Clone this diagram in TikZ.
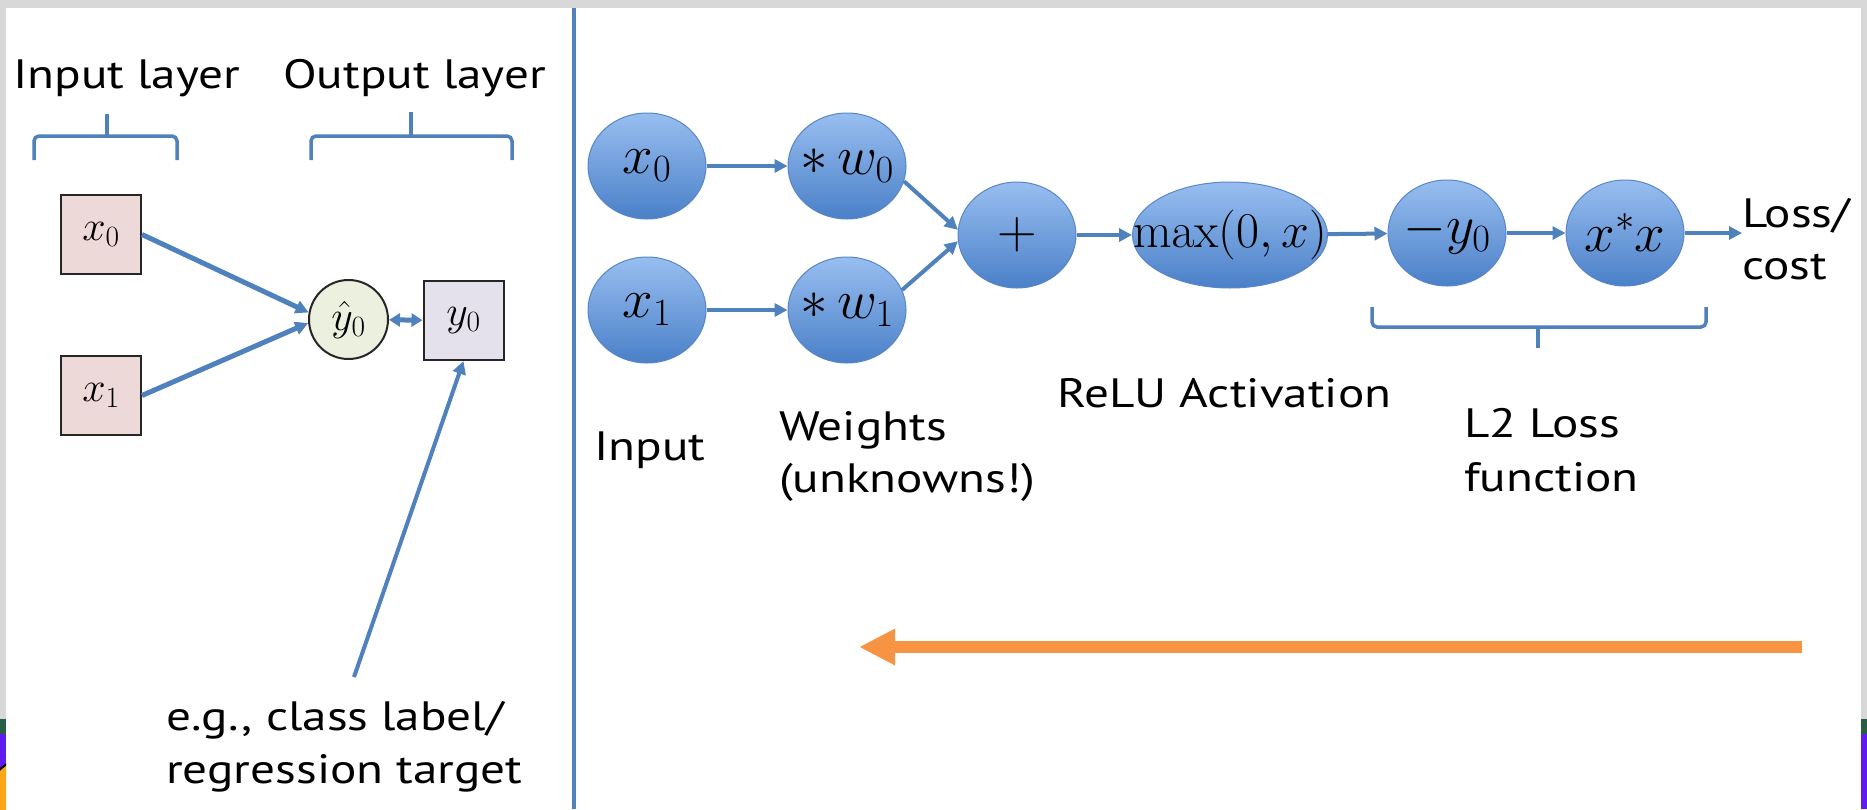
\RequirePackage{fix-cm}
\documentclass[tikz,border=0pt]{standalone}
\usepackage[no-math]{fontspec}
\setmainfont{PT Sans}[FakeStretch=1.2]
\usetikzlibrary{arrows.meta,shapes.geometric}

\definecolor{flowblue}{RGB}{79,129,189}
\definecolor{nodetop}{RGB}{152,190,240}
\definecolor{nodebot}{RGB}{74,128,200}
\definecolor{nodeedge}{RGB}{88,134,198}
\definecolor{inpink}{RGB}{237,217,216}
\definecolor{outlilac}{RGB}{228,224,236}
\definecolor{predgreen}{RGB}{235,241,222}
\definecolor{backorange}{RGB}{246,148,68}
\definecolor{pagegray}{RGB}{216,216,216}
\definecolor{stripgreen}{RGB}{38,94,70}
\definecolor{strippurple}{RGB}{96,28,240}
\definecolor{logoorange}{RGB}{250,165,20}

% centred label of zero width, so the ellipse keeps its set size
\newcommand\opmark[1]{\makebox[0pt]{$#1$}}

\tikzset{
  lbl/.style={font=\fontsize{41}{48}\selectfont, inner sep=0pt, anchor=base west},
  flow/.style={draw=flowblue, line width=4pt, -{Triangle[length=13pt,width=13pt]}},
  gnode/.style={ellipse, minimum width=118pt, minimum height=106pt, inner sep=0pt,
    top color=nodetop, bottom color=nodebot, draw=nodeedge, line width=1pt,
    font=\fontsize{55}{62}\selectfont},
  databox/.style={rectangle, draw=black!85, line width=2pt, minimum width=80pt,
    minimum height=79pt, inner sep=0pt, font=\fontsize{42}{50}\selectfont},
  brace/.style={draw=flowblue, line width=3.5pt, rounded corners=5pt},
}

\begin{document}
\begin{tikzpicture}[x=1pt,y=-1pt]
\useasboundingbox (0,0) rectangle (1867,809);

% page frame
\fill[pagegray] (0,0) rectangle (1867,809);
\fill[white] (6,8) rectangle (1861,809);
\fill[stripgreen] (0,719) rectangle (6,734);
\fill[strippurple] (0,734) rectangle (6,809);
\fill[stripgreen] (1861,719) rectangle (1867,734);
\fill[strippurple] (1861,734) rectangle (1867,809);
\begin{scope}
  \clip (0,734) rectangle (6,809);
  \filldraw[fill=logoorange, draw=black, line width=2pt] (34,806) circle (50);
\end{scope}

% divider between the two panels
\coordinate (divtop) at (574,8);
\coordinate (divbot) at (574,809);
\draw[flowblue, line width=4pt] (divtop) -- (divbot);

% ---------- left panel: single neuron ----------
\node[lbl] (inlayer) at (13,88) {Input layer};
\node[lbl] (outlayer) at (283,88) {Output layer};

\draw[brace] (34,160) -- (34,136) -- (177,136) -- (177,160);
\draw[brace] (107,136) -- (107,114);
\draw[brace] (311,160) -- (311,136) -- (512,136) -- (512,160);
\draw[brace] (411,136) -- (411,112);

\node[databox, fill=inpink] (bx0) at (101,234.5) {$x_0$};
\node[databox, fill=inpink] (bx1) at (101,395.5) {$x_1$};
\node[circle, draw=black!85, line width=2pt, fill=predgreen, minimum size=79pt,
      inner sep=0pt, font=\fontsize{42}{50}\selectfont] (yhat) at (348.5,319.5) {$\hat{y}_0$};
\node[databox, fill=outlilac] (by0) at (463.5,320.5) {$y_0$};

\draw[flow, line width=5pt] (bx0.east) -- (yhat.170);
\draw[flow, line width=5pt] (bx1.east) -- (yhat.185);
\draw[draw=flowblue, line width=5pt, {Triangle[length=11pt,width=13pt]}-{Triangle[length=11pt,width=13pt]}] (yhat) -- (by0);

\coordinate (tgt) at (354,677);
\draw[flow] (tgt) -- (by0.south);

\node[lbl] (eg1) at (166,730) {e.g., class label/};
\node[lbl] (eg2) at (166,783) {regression target};

% ---------- right panel: computational graph ----------
\node[gnode] (nx0) at (647,166) {\opmark{x_0}};
\node[gnode] (nx1) at (647,310) {\opmark{x_1}};
\node[gnode] (nw0) at (847,166) {\opmark{*\,w_0}};
\node[gnode] (nw1) at (847,310) {\opmark{*\,w_1}};
\node[gnode] (nplus) at (1017,235) {\opmark{+}};
\node[gnode, minimum width=195pt, font=\fontsize{50}{58}\selectfont] (nmax) at (1230,235) {\opmark{\max(0,x)}};
\node[gnode] (nmy) at (1447,233) {\opmark{-y_0}};
\node[gnode] (nsq) at (1625,233) {\opmark{x^*x}};

\node[lbl] (loss1) at (1742,227) {Loss/};
\node[lbl] (loss2) at (1742,279) {cost};

\draw[flow] (nx0) -- (nw0);
\draw[flow] (nx1) -- (nw1);
\draw[flow] (nw0.-15) -- (nplus.175);
\draw[flow] (nw1.20) -- (nplus.186);
\draw[flow] (nplus) -- (nmax);
\draw[flow] (nmax) -- (nmy);
\draw[flow] (nmy) -- (nsq);
\draw[flow] (nsq) -- (nsq -| loss1.west);

\draw[brace] (1372,307) -- (1372,327) -- (1706,327) -- (1706,307);
\draw[brace] (1538,327) -- (1538,348);

\node[lbl] (inlbl) at (594,460) {Input};
\node[lbl] (wt1) at (779,440) {Weights};
\node[lbl] (wt2) at (779,492) {(unknowns!)};
\node[lbl] (relu) at (1057,407) {ReLU Activation};
\node[lbl] (l2a) at (1464,437) {L2 Loss};
\node[lbl] (l2b) at (1464,491) {function};

% backward pass
\coordinate (bpstart) at (1802,647);
\coordinate (bpend) at (859,647);
\draw[draw=backorange, line width=12pt, -{Triangle[length=36pt,width=34pt]}] (bpstart) -- (bpend);
\end{tikzpicture}
\end{document}
